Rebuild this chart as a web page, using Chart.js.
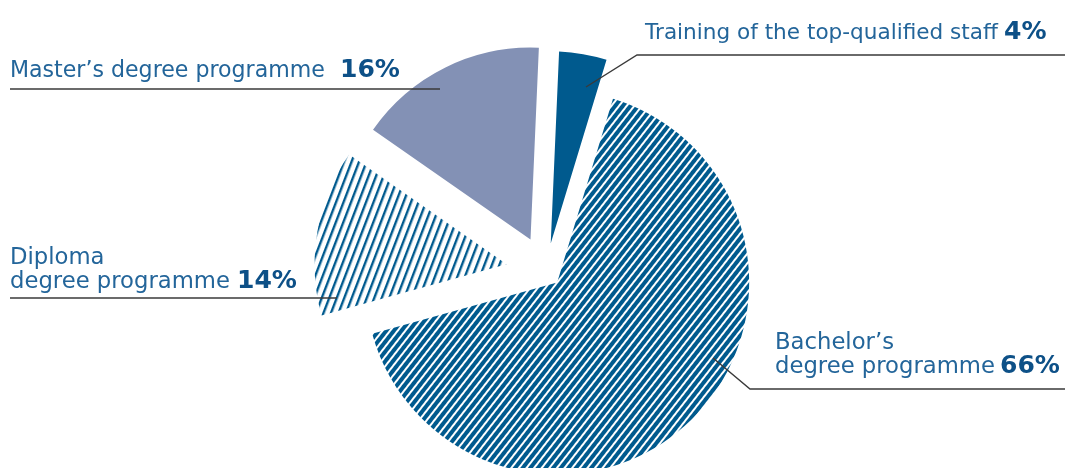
<!DOCTYPE html>
<html>
<head>
<meta charset="utf-8">
<script src="https://cdn.jsdelivr.net/npm/chart.js@4.4.1/dist/chart.umd.min.js"></script>
<style>
    html, body { margin: 0; padding: 0; background: #fff; }
</style>
</head>
<body>
<canvas id="pie" width="1065" height="468"></canvas>
<script>
// Data
const categories = ['Training of the top-qualified staff', 'Bachelor’s degree programme', 'Diploma degree programme', 'Master’s degree programme'];
const shares = [4, 66, 14, 16];
const labelLines = [
    ['Training of the top-qualified staff'],
    ['Bachelor’s', 'degree programme'],
    ['Diploma', 'degree programme'],
    ['Master’s degree programme']
];

// Styles
const DARK = '#005a8e';
const LIGHT = '#8391b5';
const TEXT = '#23659a';
const PCT = '#0d5087';
const LEADER = '#3a3a3a';
const FONT = '"DejaVu Sans", sans-serif';
const RADIUS = 192;
const explode = [28, 16, 40, 35];          // px each slice is pulled out
const labelPos = [[645, 39], [775, 349], [10, 264], [10, 77]];
const labelWidth = [353, 220, 220, 315];   // width of the last text line
const pctX = [1004, 1000, 237, 340];
const leaders = [
    [[586, 87], [637, 55], [1065, 55]],
    [[713, 358], [750, 389], [1065, 389]],
    [[10, 298], [337, 298]],
    [[10, 89], [440, 89]]
];

// striped fill: vertical stripes on a tile, rotated by `angle` degrees
function stripes(bg, fg, period, width, angle) {
    const tile = document.createElement('canvas');
    tile.width = period;
    tile.height = 4;
    const t = tile.getContext('2d');
    t.fillStyle = bg;
    t.fillRect(0, 0, period, 4);
    t.fillStyle = fg;
    t.fillRect(0, 0, width, 4);
    const p = t.createPattern(tile, 'repeat');
    p.setTransform(new DOMMatrix().rotateSelf(angle));
    return p;
}

const fills = [
    DARK,
    stripes(DARK, '#ffffff', 6, 2, 38),
    stripes('#ffffff', DARK, 7, 2.4, 21),
    LIGHT
];

const explodePlugin = {
    id: 'explode',
    beforeDatasetsDraw(chart) {
        const a = chart.chartArea;
        const cx = (a.left + a.right) / 2;
        const cy = (a.top + a.bottom) / 2;
        chart.getDatasetMeta(0).data.forEach((arc, i) => {
            const mid = (arc.startAngle + arc.endAngle) / 2;
            arc.x = cx + explode[i] * Math.cos(mid);
            arc.y = cy + explode[i] * Math.sin(mid);
        });
    }
};

function fitSize(ctx, text, weight, width) {
    ctx.font = weight + ' 100px ' + FONT;
    return 100 * width / ctx.measureText(text).width;
}

const labelPlugin = {
    id: 'labels',
    afterDraw(chart) {
        const ctx = chart.ctx;
        ctx.save();
        ctx.strokeStyle = LEADER;
        ctx.lineWidth = 1.4;
        leaders.forEach(pts => {
            ctx.beginPath();
            pts.forEach(([x, y], k) => k ? ctx.lineTo(x, y) : ctx.moveTo(x, y));
            ctx.stroke();
        });

        const bold = fitSize(ctx, '66%', 'bold', 60);
        ctx.textBaseline = 'alphabetic';
        ctx.textAlign = 'left';
        labelLines.forEach((lines, i) => {
            const [x, y] = labelPos[i];
            const reg = fitSize(ctx, lines[lines.length - 1], 'normal', labelWidth[i]);
            ctx.fillStyle = TEXT;
            ctx.font = 'normal ' + reg + 'px ' + FONT;
            lines.forEach((line, k) => ctx.fillText(line, x, y + k * 24));
            ctx.fillStyle = PCT;
            ctx.font = 'bold ' + bold + 'px ' + FONT;
            ctx.fillText(shares[i] + '%', pctX[i], y + (lines.length - 1) * 24);
        });
        ctx.restore();
    }
};

new Chart(document.getElementById('pie'), {
    type: 'pie',
    data: {
        labels: categories,
        datasets: [{
            data: shares,
            backgroundColor: fills,
            borderWidth: 0,
            clip: false
        }]
    },
    options: {
        responsive: false,
        animation: false,
        events: [],
        radius: RADIUS,
        rotation: 2.5,
        layout: { padding: { left: 27, top: 74, right: 0, bottom: 0 } },
        plugins: {
            legend: { display: false },
            tooltip: { enabled: false }
        }
    },
    plugins: [explodePlugin, labelPlugin]
});
</script>
</body>
</html>
